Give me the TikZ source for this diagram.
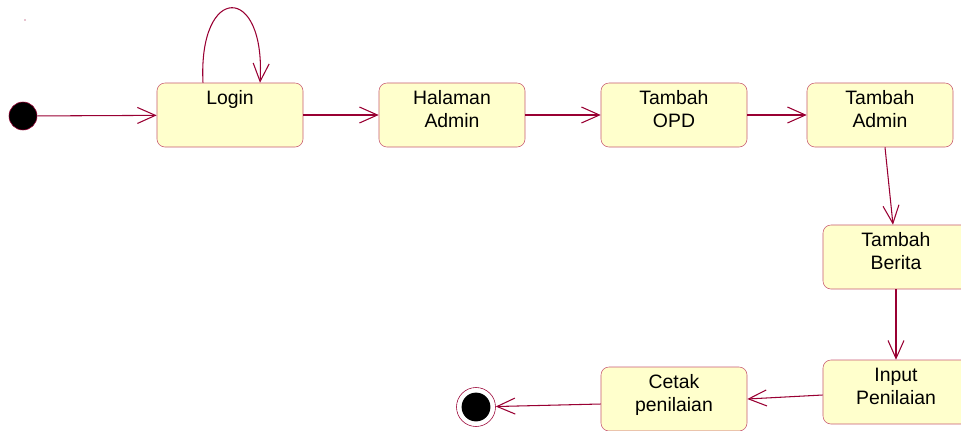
\documentclass[tikz,border=0pt]{standalone}
\usepackage{fontspec}
\setmainfont{Liberation Sans}
\usetikzlibrary{arrows.meta}
\definecolor{flowred}{RGB}{153,0,51}
\definecolor{stateedge}{RGB}{200,90,115}
\definecolor{statefill}{RGB}{255,255,204}

\begin{document}
\begin{tikzpicture}[x=0.025cm, y=-0.025cm,
    state/.style={draw=stateedge, fill=statefill, rounded corners=0.2cm, thin,
      minimum width=3.65cm, minimum height=1.6cm, align=center, text depth=0.3cm,
      font=\fontsize{13.8}{16.6}\selectfont},
    flow/.style={draw=flowred, line width=0.75pt, -{Straight Barb[length=4.5mm, width=4mm]}},
    startstate/.style={circle, fill=black, draw=flowred, minimum size=0.7cm, inner sep=0pt},
    endstate/.style={circle, draw=flowred, fill=white, minimum size=0.975cm, inner sep=0pt}]
    \useasboundingbox (0,0) rectangle (961,430);

    % Start and end
    \node[startstate] (start) at (23,116) {};
    \node[endstate] (end) at (476,407) {};
    \fill[black] (end) circle (0.36cm);
    \fill[flowred] (25,20) circle (0.5pt);

    % Activities
    \node[state] (login) at (230,115) {Login\\ ~};
    \node[state] (halaman) at (452,115) {Halaman\\Admin};
    \node[state] (opd) at (674,115) {Tambah\\OPD};
    \node[state] (tadmin) at (880,115) {Tambah\\Admin};
    \node[state] (berita) at (896,257) {Tambah\\Berita};
    \node[state] (input) at (896,392) {Input\\Penilaian};
    \node[state] (cetak) at (674,399) {Cetak\\penilaian};

    % Transitions
    \draw[flow] (start) -- (login);
    \draw[flow] ([xshift=-0.675cm]login.north) .. controls (198,-17) and (266,-17) .. ([xshift=0.75cm]login.north);
    \draw[flow] (login) -- (halaman);
    \draw[flow] (halaman) -- (opd);
    \draw[flow] (opd) -- (tadmin);
    \draw[flow] ([xshift=0.125cm]tadmin.south) -- ([xshift=-0.075cm]berita.north);
    \draw[flow] (berita) -- (input);
    \draw[flow] ([yshift=-0.075cm]input.west) -- (cetak.east);
    \draw[flow] ([yshift=-0.125cm]cetak.west) -- (end);
\end{tikzpicture}
\end{document}
